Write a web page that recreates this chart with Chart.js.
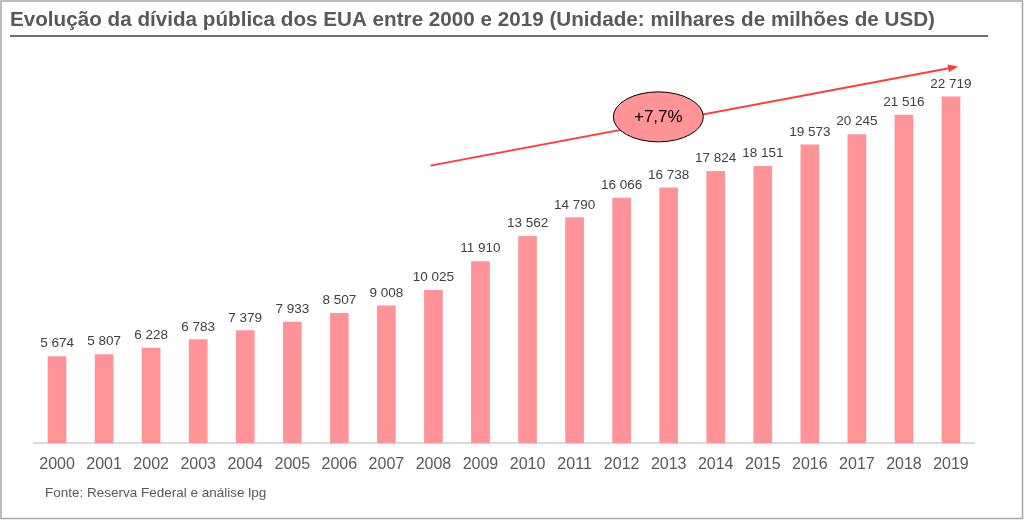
<!DOCTYPE html>
<html>
<head>
<meta charset="utf-8">
<script src="https://cdn.jsdelivr.net/npm/chart.js@4"></script>
<style>
  html, body { margin: 0; padding: 0; background: #fff; }
  #wrap { width: 1024px; height: 520px; position: relative; }
</style>
</head>
<body>
<div id="wrap"><canvas id="myChart" width="1024" height="520"></canvas></div>
<script>
const years = ["2000", "2001", "2002", "2003", "2004", "2005", "2006", "2007", "2008", "2009",
  "2010", "2011", "2012", "2013", "2014", "2015", "2016", "2017", "2018", "2019"];
const debt = [5674, 5807, 6228, 6783, 7379, 7933, 8507, 9008, 10025, 11910,
  13562, 14790, 16066, 16738, 17824, 18151, 19573, 20245, 21516, 22719];

const titleText = "Evolução da dívida pública dos EUA entre 2000 e 2019 (Unidade: milhares de milhões de USD)";
const sourceText = "Fonte: Reserva Federal e análise lpg";
const growthText = "+7,7%";

const FONT = "'Liberation Sans', Arial, sans-serif";
const BAR_COLOR = "#FF9397";

const fmt = (v) => String(v).replace(/\B(?=(\d{3})+(?!\d))/g, " ");

// frame, title, source, value labels, trend arrow
const decorPlugin = {
  id: "decor",
  beforeDraw(chart) {
    const ctx = chart.ctx;
    ctx.save();
    ctx.fillStyle = "#fff";
    ctx.fillRect(0, 0, chart.width, chart.height);
    ctx.restore();
  },
  afterDraw(chart) {
    const ctx = chart.ctx;
    const x = chart.scales.x;
    const y = chart.scales.y;
    ctx.save();

    // outer frame
    ctx.strokeStyle = "#a6a6a6";
    ctx.lineWidth = 1.5;
    ctx.strokeRect(1, 1, chart.width - 2.5, chart.height - 2.5);

    // title, fitted to the reference width
    ctx.font = "bold 20px " + FONT;
    ctx.fillStyle = "#595959";
    ctx.textBaseline = "middle";
    ctx.textAlign = "left";
    const w = ctx.measureText(titleText).width;
    const target = 925;
    ctx.save();
    ctx.translate(10, 20);
    ctx.scale(target / w, 1);
    ctx.fillText(titleText, 0, 0);
    ctx.restore();

    ctx.strokeStyle = "#404040";
    ctx.lineWidth = 1.5;
    ctx.beginPath();
    ctx.moveTo(10, 36);
    ctx.lineTo(988, 36);
    ctx.stroke();

    // source
    ctx.font = "13.5px " + FONT;
    ctx.fillStyle = "#595959";
    ctx.fillText(sourceText, 45, 493);

    // value labels
    const meta = chart.getDatasetMeta(0);
    ctx.font = "13.5px " + FONT;
    ctx.fillStyle = "#404040";
    ctx.textAlign = "center";
    ctx.textBaseline = "bottom";
    meta.data.forEach((bar, i) => {
      ctx.fillText(fmt(debt[i]), bar.x, bar.y - 6);
    });

    // trend arrow, placed on the chart scales
    const step = x.getPixelForValue(1) - x.getPixelForValue(0);
    const x0 = x.getPixelForValue(8) - 3;
    const y0 = y.getPixelForValue(18200);
    const x1 = x.getPixelForValue(19) + 0.15 * step;
    const y1 = y.getPixelForValue(24700);
    ctx.strokeStyle = "#FF3B3B";
    ctx.fillStyle = "#FF3B3B";
    ctx.lineWidth = 2;
    const ang = Math.atan2(y1 - y0, x1 - x0);
    ctx.beginPath();
    ctx.moveTo(x0, y0);
    ctx.lineTo(x1 - 8 * Math.cos(ang), y1 - 8 * Math.sin(ang));
    ctx.stroke();
    ctx.beginPath();
    ctx.moveTo(x1, y1);
    ctx.lineTo(x1 - 10 * Math.cos(ang) + 4 * Math.sin(ang), y1 - 10 * Math.sin(ang) - 4 * Math.cos(ang));
    ctx.lineTo(x1 - 10 * Math.cos(ang) - 4 * Math.sin(ang), y1 - 10 * Math.sin(ang) + 4 * Math.cos(ang));
    ctx.closePath();
    ctx.fill();

    // growth bubble
    const ex = x.getPixelForValue(12) + 0.78 * step;
    const ey = y.getPixelForValue(21400);
    ctx.beginPath();
    ctx.ellipse(ex, ey, 45, 25, 0, 0, Math.PI * 2);
    ctx.fillStyle = "#FF9396";
    ctx.fill();
    ctx.strokeStyle = "#000";
    ctx.lineWidth = 1;
    ctx.stroke();
    ctx.fillStyle = "#000";
    ctx.font = "17px " + FONT;
    ctx.textBaseline = "middle";
    ctx.fillText(growthText, ex, ey);

    ctx.restore();
  },
};

const ctx = document.getElementById("myChart").getContext("2d");
new Chart(ctx, {
  type: "bar",
  data: {
    labels: years,
    datasets: [
      {
        data: debt,
        backgroundColor: BAR_COLOR,
        borderWidth: 0,
        barThickness: 18,
      },
    ],
  },
  options: {
    responsive: false,
    animation: false,
    layout: { padding: { left: 33.5, right: 49.5, top: 62, bottom: 0 } },
    plugins: {
      legend: { display: false },
      tooltip: { enabled: false },
    },
    scales: {
      x: {
        grid: { display: false, drawTicks: false },
        border: { display: true, color: "#d9d9d9", width: 2 },
        ticks: {
          color: "#595959",
          font: { family: FONT, size: 16 },
          padding: 12,
          maxRotation: 0,
          autoSkip: false,
        },
        afterFit(scale) {
          scale.height = 77;
        },
      },
      y: {
        display: false,
        min: 0,
        max: 25000,
      },
    },
  },
  plugins: [decorPlugin],
});
</script>
</body>
</html>
